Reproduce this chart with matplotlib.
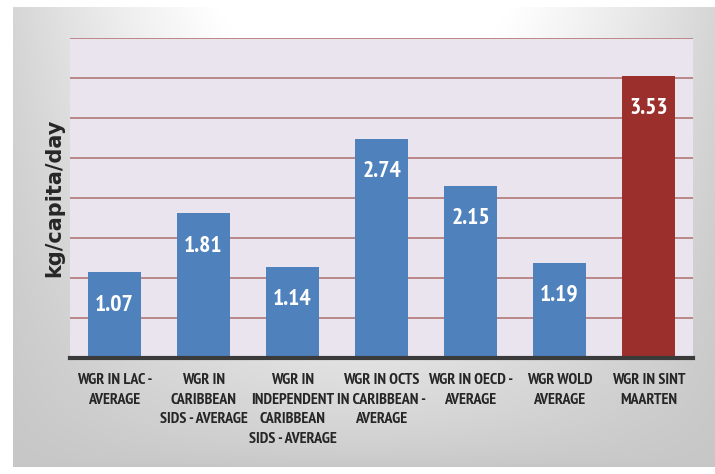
import numpy as np
import matplotlib
matplotlib.use("Agg")
import matplotlib.pyplot as plt

categories = ["WGR IN LAC -\nAVERAGE",
              "WGR IN\nCARIBBEAN\nSIDS - AVERAGE",
              "WGR IN\nINDEPENDENT\nCARIBBEAN\nSIDS - AVERAGE",
              "WGR IN OCTS\nIN CARIBBEAN -\nAVERAGE",
              "WGR IN OECD -\nAVERAGE",
              "WGR WOLD\nAVERAGE",
              "WGR IN SINT\nMAARTEN"]
values = [1.07, 1.81, 1.14, 2.74, 2.15, 1.19, 3.53]
value_labels = ["1.07", "1.81", "1.14", "2.74", "2.15", "1.19", "3.53"]
bar_colors = ["#4F81BD"] * 6 + ["#9B2F2C"]

narrow = ["PT Sans Narrow", "DejaVu Sans"]

W, H = 715, 474
fig = plt.figure(figsize=(W / 100, H / 100), dpi=100)
fig.patch.set_facecolor("white")

# gray gradient frame behind everything
bg = fig.add_axes([13 / W, 1 - 467 / H, (W - 13) / W, (467 - 7) / H], zorder=0)
xx, yy = np.meshgrid(np.linspace(-1, 1, 300), np.linspace(0, 1, 200))
shade = 0.78 + 0.22 * np.clip(1 - np.abs(xx) ** 1.5, 0, 1) * (1 - yy) ** 0.6 + 0.06 * (1 - yy)
shade = np.clip(shade, 0, 1)
bg.imshow(np.dstack([shade, shade, shade]), aspect="auto", extent=[0, 1, 0, 1], origin="upper")
bg.axis("off")

ax = fig.add_axes([70 / W, 1 - 358 / H, (693 - 70) / W, (358 - 38) / H], zorder=1)
ax.set_facecolor("#EAE4EE")
x = np.arange(len(values))
ax.bar(x, values, width=0.59, color=bar_colors, zorder=3)
ax.set_xlim(-0.5, len(values) - 0.5)
ax.set_ylim(0, 4)
ax.set_yticks(np.arange(0, 4.01, 0.5))
ax.yaxis.grid(True, color="#B88080", linewidth=1.3, zorder=1)
ax.tick_params(axis="y", length=0, labelleft=False)
ax.tick_params(axis="x", length=0, pad=11)
ax.set_xticks(x)
ax.set_xticklabels(categories, fontsize=11.5, fontweight="bold", color="#262626",
                   family=narrow, linespacing=1.5, va="top")
for s in ["top", "right", "left"]:
    ax.spines[s].set_visible(False)
ax.spines["bottom"].set_color("#3A3A3A")
ax.spines["bottom"].set_linewidth(3)
ax.spines["bottom"].set_zorder(4)

for xi, v, lab in zip(x, values, value_labels):
    ax.text(xi, v - 0.41, lab, ha="center", va="center", color="white",
            fontsize=17, fontweight="bold", family=narrow, zorder=5)

ax.set_ylabel("kg/capita/day", fontsize=15, fontweight="bold", color="#262626", labelpad=4)

fig.savefig("out.png", dpi=100)
